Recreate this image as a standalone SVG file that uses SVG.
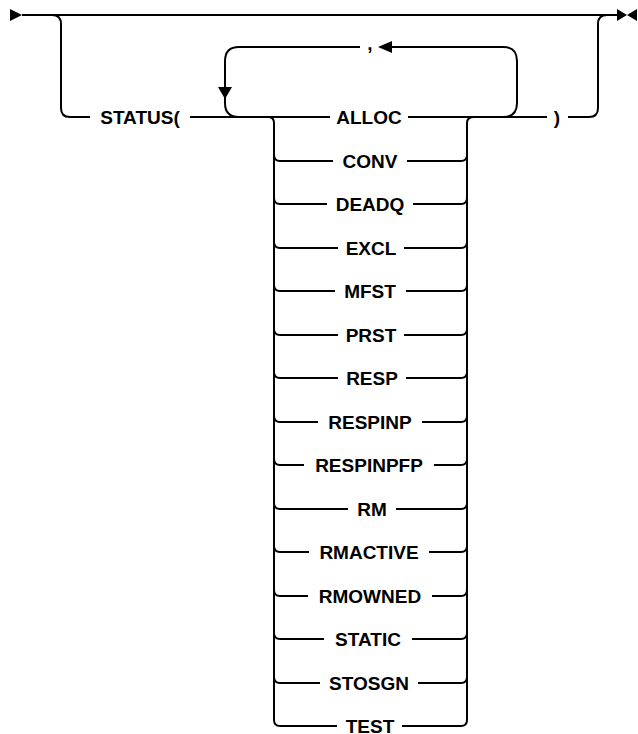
<svg xmlns="http://www.w3.org/2000/svg" width="638" height="734" viewBox="0 0 638 734">
<style>
.c{fill:none;stroke:#000;stroke-width:2}
.a{fill:#000;stroke:none}
text{font-family:"Liberation Sans",Arial,sans-serif;font-size:19px;font-weight:bold;fill:#000;text-anchor:middle}
</style>
<rect width="638" height="734" fill="#fff"/>
<g id="connectors">
<path class="c" d="M22,15 H617"/>
<path class="c" d="M52,15 Q61,15 61,24 V108 Q61,117 70,117 H90"/>
<path class="c" d="M190,117 H330"/>
<path class="c" d="M408,117 H547"/>
<path class="c" d="M568,117 H589 Q598,117 598,108 V24 Q598,15 607,15"/>
<path class="c" d="M503,117 Q517,117 517,103 V61 Q517,47 503,47 H390"/>
<path class="c" d="M360,47 H239 Q225,47 225,61 V103 Q225,117 239,117"/>
<path class="c" d="M268,117 Q274,117 274,123 V720 Q274,726 280,726 H337"/>
<path class="c" d="M474,117 Q467,117 467,123 V720 Q467,726 461,726 H402"/>
<path class="c" d="M274,155 Q274,161 280,161 H333 M407,161 H461 Q467,161 467,155"/>
<path class="c" d="M274,198 Q274,204 280,204 H327 M413,204 H461 Q467,204 467,198"/>
<path class="c" d="M274,242 Q274,248 280,248 H338 M404,248 H461 Q467,248 467,242"/>
<path class="c" d="M274,285 Q274,291 280,291 H335 M406,291 H461 Q467,291 467,285"/>
<path class="c" d="M274,329 Q274,335 280,335 H338 M404,335 H461 Q467,335 467,329"/>
<path class="c" d="M274,372 Q274,378 280,378 H338 M406,378 H461 Q467,378 467,372"/>
<path class="c" d="M274,416 Q274,422 280,422 H318 M422,422 H461 Q467,422 467,416"/>
<path class="c" d="M274,459 Q274,465 280,465 H304 M434,465 H461 Q467,465 467,459"/>
<path class="c" d="M274,503 Q274,509 280,509 H348 M396,509 H461 Q467,509 467,503"/>
<path class="c" d="M274,546 Q274,552 280,552 H309 M429,552 H461 Q467,552 467,546"/>
<path class="c" d="M274,590 Q274,596 280,596 H308 M432,596 H461 Q467,596 467,590"/>
<path class="c" d="M274,633 Q274,639 280,639 H324 M412,639 H461 Q467,639 467,633"/>
<path class="c" d="M274,677 Q274,683 280,683 H320 M418,683 H461 Q467,683 467,677"/>
<polygon class="a" points="392,41 392,53 378,47"/>
<polygon class="a" points="218,87 232,87 225,99"/>
</g>
<g id="start"><polygon class="a" points="10,9 10,21 22,15"/></g>
<g id="end"><polygon class="a" points="617,9 617,21 627,15"/><polygon class="a" points="637,9 637,21 627,15"/></g>
<g id="status"><text x="140" y="124">STATUS(</text></g>
<g id="comma"><text x="370" y="50">,</text></g>
<g id="close"><text x="557" y="124">)</text></g>
<g id="alloc"><text x="369" y="124">ALLOC</text></g>
<g id="conv"><text x="370" y="168">CONV</text></g>
<g id="deadq"><text x="370" y="211">DEADQ</text></g>
<g id="excl"><text x="371" y="255">EXCL</text></g>
<g id="mfst"><text x="370" y="298">MFST</text></g>
<g id="prst"><text x="371" y="342">PRST</text></g>
<g id="resp"><text x="372" y="385">RESP</text></g>
<g id="respinp"><text x="370" y="429">RESPINP</text></g>
<g id="respinpfp"><text x="369" y="472">RESPINPFP</text></g>
<g id="rm"><text x="372" y="516">RM</text></g>
<g id="rmactive"><text x="369" y="559">RMACTIVE</text></g>
<g id="rmowned"><text x="370" y="603">RMOWNED</text></g>
<g id="static"><text x="368" y="646">STATIC</text></g>
<g id="stosgn"><text x="369" y="690">STOSGN</text></g>
<g id="test"><text x="370" y="733">TEST</text></g>
</svg>
